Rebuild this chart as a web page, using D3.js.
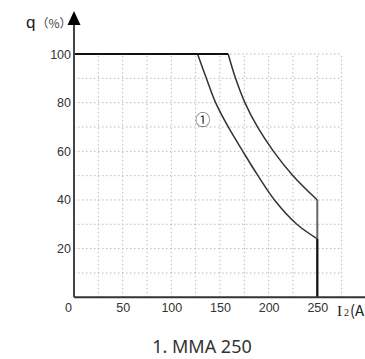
<head>
<meta charset="UTF-8">
<script src="https://d3js.org/d3.v7.min.js"></script>
<style>
  body { margin: 0; background: #fff; }
  svg { display: block; }
</style>
</head>
<body>
<svg width="365" height="359"></svg>
<script>
// values: current I2 (A) vs duty cycle q (%)
const xTicks = [0, 50, 100, 150, 200, 250];
const yTicks = [20, 40, 60, 80, 100];
const innerI = [127, 136, 145.5, 158.5, 173.5, 189, 206, 229, 250];
const innerQ = [100, 90, 80, 70, 60, 50, 40, 30, 24];
const outerI = [158.4, 166, 175.6, 188.5, 205, 225, 250];
const outerQ = [100, 90, 80, 70, 60, 50, 40];
const title = "1. MMA 250";

const svg = d3.select("svg");
const x = d3.scaleLinear().domain([0, 250]).range([74, 317.3]);
const y = d3.scaleLinear().domain([0, 100]).range([297.3, 54]);

// dotted grid
const grid = svg.append("g").attr("stroke", "#bbb").attr("stroke-width", 1)
  .attr("stroke-dasharray", "1.5,2.5");
grid.selectAll(".gh").data(d3.range(10, 101, 10)).join("line")
  .attr("x1", x(0)).attr("x2", x(275))
  .attr("y1", d => y(d)).attr("y2", d => y(d));
grid.selectAll(".gv").data(d3.range(25, 276, 25)).join("line")
  .attr("x1", d => x(d)).attr("x2", d => x(d))
  .attr("y1", y(0)).attr("y2", y(100));

// curves
const line = d3.line().x(d => x(d[0])).y(d => y(d[1])).curve(d3.curveCatmullRom.alpha(0.5));
svg.append("path").datum(d3.zip(innerI, innerQ)).attr("d", line)
  .attr("fill", "none").attr("stroke", "#333").attr("stroke-width", 1.5);
svg.append("path").datum(d3.zip(outerI, outerQ)).attr("d", line)
  .attr("fill", "none").attr("stroke", "#333").attr("stroke-width", 1.5);
// flat top and vertical limit
svg.append("line").attr("x1", x(0)).attr("x2", x(outerI[0]))
  .attr("y1", y(100)).attr("y2", y(100)).attr("stroke", "#111").attr("stroke-width", 2);
svg.append("line").attr("x1", x(250)).attr("x2", x(250))
  .attr("y1", y(outerQ[outerQ.length - 1])).attr("y2", y(0))
  .attr("stroke", "#666").attr("stroke-width", 2);
svg.append("line").attr("x1", x(250)).attr("x2", x(250))
  .attr("y1", y(innerQ[innerQ.length - 1])).attr("y2", y(0))
  .attr("stroke", "#111").attr("stroke-width", 2);

// axes lines
svg.append("line").attr("x1", x(0)).attr("x2", 365).attr("y1", y(0)).attr("y2", y(0))
  .attr("stroke", "#333").attr("stroke-width", 2);
svg.append("line").attr("x1", x(0)).attr("x2", x(0)).attr("y1", y(0)).attr("y2", 22)
  .attr("stroke", "#444").attr("stroke-width", 2);
svg.append("path").attr("d", `M${x(0)},11 L${x(0) - 6.5},25 L${x(0) + 6.5},25 Z`).attr("fill", "#000");

// tick labels
const xAxis = svg.append("g").attr("transform", `translate(0,${y(0)})`)
  .call(d3.axisBottom(x).tickValues(xTicks).tickSize(0).tickPadding(6));
xAxis.select(".domain").remove();
xAxis.selectAll("text").filter(d => d === 0).attr("dx", -6);
const yAxis = svg.append("g").attr("transform", `translate(${x(0)},0)`)
  .call(d3.axisLeft(y).tickValues(yTicks).tickSize(0).tickPadding(3));
yAxis.select(".domain").remove();
svg.selectAll(".tick text").attr("font-family", "Liberation Sans, Arial, sans-serif")
  .attr("font-size", 12.5).attr("fill", "#333");

// axis titles
svg.append("text").attr("x", 26).attr("y", 28).attr("font-family", "Liberation Sans, sans-serif")
  .attr("font-size", 17).attr("fill", "#222")
  .text("q").append("tspan").attr("dx", 1).attr("font-family", "Noto Sans CJK SC")
  .attr("font-size", 12).attr("fill", "#444").text("（%）");
svg.append("text").attr("x", 337).attr("y", 316).attr("font-family", "Liberation Serif, serif")
  .attr("font-size", 15).attr("fill", "#222")
  .text("I").append("tspan").attr("dx", 2).attr("font-size", 10).text("2")
  .append("tspan").attr("dx", 1).attr("font-family", "Noto Sans CJK SC").attr("font-size", 15).text("(A)");

// curve label
svg.append("text").attr("x", 202.7).attr("y", 118.3).attr("text-anchor", "middle")
  .attr("dominant-baseline", "central").attr("font-family", "Noto Sans CJK SC")
  .attr("font-size", 15).attr("fill", "#333").text("①");

// caption
svg.append("text").attr("x", 202).attr("y", 353).attr("text-anchor", "middle")
  .attr("font-family", "Noto Sans, sans-serif").attr("font-size", 18).attr("fill", "#333")
  .text(title);
</script>
</body>
